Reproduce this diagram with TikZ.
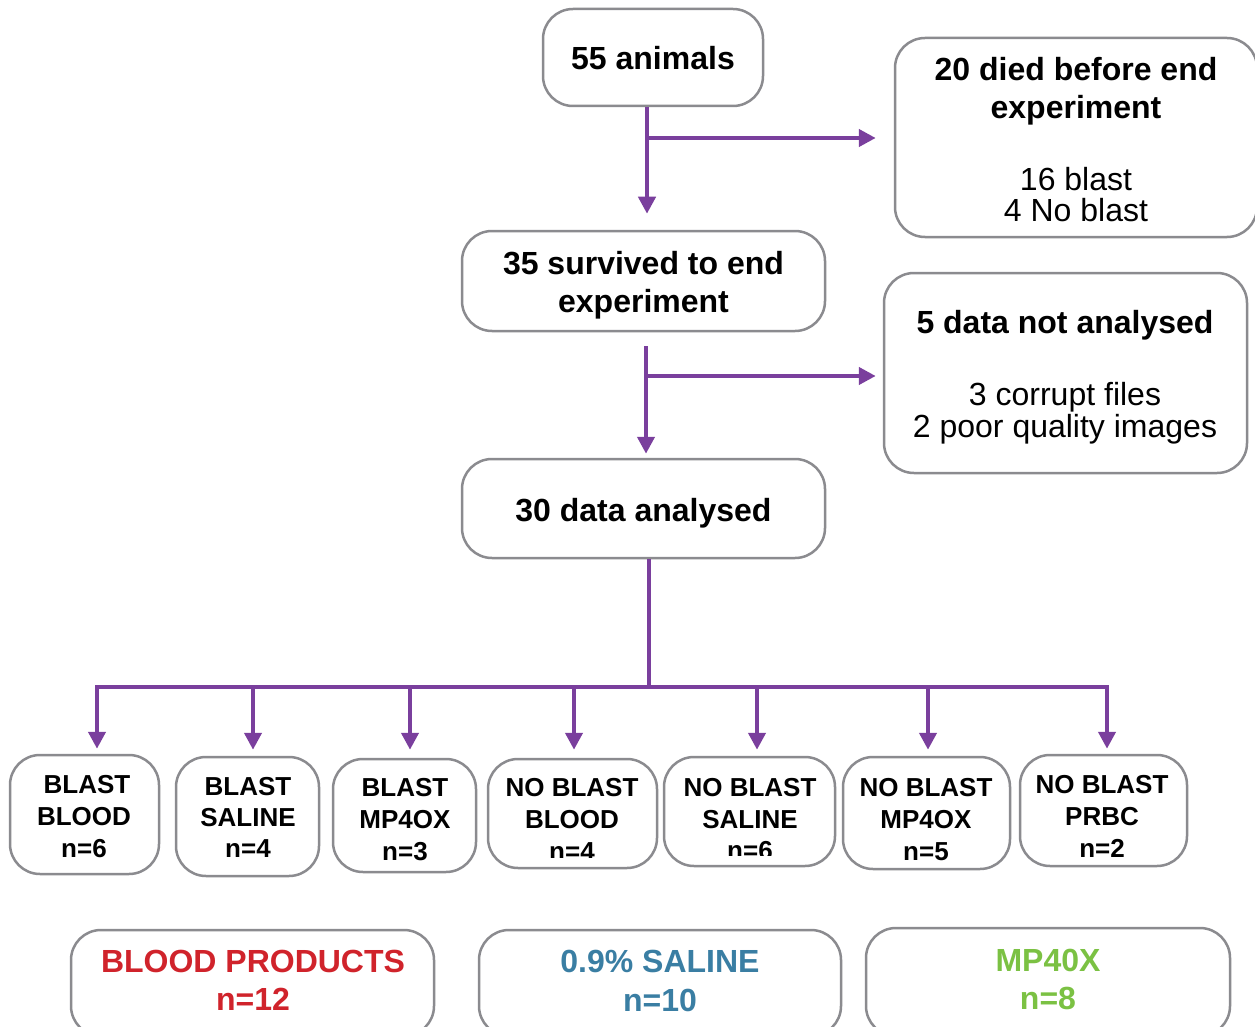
\documentclass[tikz,border=0pt]{standalone}
\usepackage{fontspec}
\setmainfont{Liberation Sans}
\usetikzlibrary{arrows.meta}
\definecolor{purp}{HTML}{7A3F9D}
\definecolor{bgray}{HTML}{8B8B8F}
\definecolor{cred}{HTML}{D0232B}
\definecolor{cteal}{HTML}{3A7EA3}
\definecolor{cgreen}{HTML}{7BC143}
\begin{document}
\begin{tikzpicture}[x=1pt,y=-1pt,
  box/.style={draw=bgray, line width=2.5pt, rounded corners=30pt, inner sep=0pt},
  big/.style={font=\fontsize{32}{37}\selectfont\bfseries, anchor=base, inner sep=0pt},
  reg/.style={font=\fontsize{32}{37}\selectfont, anchor=base, inner sep=0pt},
  small/.style={font=\fontsize{26}{32}\selectfont\bfseries, anchor=base, inner sep=0pt},
  arr/.style={draw=purp, line width=4.2pt, -{Triangle[length=17pt,width=17pt]}},
  ln/.style={draw=purp, line width=4.2pt},
]
\useasboundingbox (0,0) rectangle (1255,1027);
\clip (0,0) rectangle (1255,1027);

% main boxes
\node[box, minimum width=220pt, minimum height=97pt] (b55) at (653,57.5) {};
\node[box, minimum width=362pt, minimum height=199pt] (b20) at (1076,137.5) {};
\node[box, minimum width=363pt, minimum height=100pt] (b35) at (643.5,281) {};
\node[box, minimum width=363pt, minimum height=200pt] (b5) at (1065.5,373) {};
\node[box, minimum width=363pt, minimum height=99pt] (b30) at (643.5,508.5) {};

\node[big] (t55) at (653,70) {55 animals};
\node[big] (t20a) at (1076,81) {20 died before end};
\node[big] (t20b) at (1076,118.5) {experiment};
\node[reg] (t20c) at (1076,190) {16 blast};
\node[reg] (t20d) at (1076,222) {4 No blast};
\node[big] (t35a) at (643.5,274) {35 survived to end};
\node[big] (t35b) at (643.5,312) {experiment};
\node[big] (t5a) at (1065,333) {5 data not analysed};
\node[reg] (t5b) at (1065,405) {3 corrupt files};
\node[reg] (t5c) at (1065,437) {2 poor quality images};
\node[big] (t30) at (643.5,521) {30 data analysed};

% bottom boxes
\node[box, minimum width=149pt, minimum height=119pt] (bb1) at (84.5,814.5) {};
\node[box, minimum width=143pt, minimum height=119pt] (bb2) at (247.5,816.5) {};
\node[box, minimum width=143pt, minimum height=113pt] (bb3) at (404.5,815.5) {};
\node[box, minimum width=169pt, minimum height=109pt] (bb4) at (572.5,813.5) {};
\node[box, minimum width=171pt, minimum height=109pt] (bb5) at (749.5,811.5) {};
\node[box, minimum width=167pt, minimum height=112pt] (bb6) at (926.5,813) {};
\node[box, minimum width=167pt, minimum height=111pt] (bb7) at (1103.5,810.5) {};

\node[small] (l1a) at (87,793) {BLAST};
\node[small] (l1b) at (84,825) {BLOOD};
\node[small] (l1c) at (84,857) {n=6};
\node[small] (l2a) at (248,795) {BLAST};
\node[small] (l2b) at (248,826) {SALINE};
\node[small] (l2c) at (248,857) {n=4};
\node[small] (l3a) at (405,796) {BLAST};
\node[small] (l3b) at (405,828) {MP4OX};
\node[small] (l3c) at (405,860) {n=3};
\node[small] (l4a) at (572,796) {NO BLAST};
\node[small] (l4b) at (572,828) {BLOOD};
\begin{scope}
  \clip (490,840) rectangle (655,857);
  \node[small] (l4c) at (572,860) {n=4};
\end{scope}
\node[small] (l5a) at (750,796) {NO BLAST};
\node[small] (l5b) at (750,828) {SALINE};
\begin{scope}
  \clip (666,840) rectangle (833,855);
  \node[small] (l5c) at (750,859) {n=6};
\end{scope}
\node[small] (l6a) at (926,796) {NO BLAST};
\node[small] (l6b) at (926,828) {MP4OX};
\node[small] (l6c) at (926,860) {n=5};
\node[small] (l7a) at (1102,793) {NO BLAST};
\node[small] (l7b) at (1102,825) {PRBC};
\node[small] (l7c) at (1102,857) {n=2};

% group boxes
\node[box, minimum width=363pt, minimum height=106pt] (g1) at (252.5,983) {};
\node[box, minimum width=362pt, minimum height=106pt] (g2) at (660,983) {};
\node[box, minimum width=364pt, minimum height=108pt] (g3) at (1048,982) {};
\node[big, text=cred] (g1a) at (253,972) {BLOOD PRODUCTS};
\node[big, text=cred] (g1b) at (253,1010) {n=12};
\node[big, text=cteal] (g2a) at (660,972) {0.9\% SALINE};
\node[big, text=cteal] (g2b) at (660,1011) {n=10};
\node[big, text=cgreen] (g3a) at (1048,971) {MP40X};
\node[big, text=cgreen] (g3b) at (1048,1009) {n=8};

% connectors
\coordinate (j1) at (647,138);
\draw[arr, shorten >=16pt] (b55.south -| j1) -- (b35.north -| j1);
\draw[arr, shorten >=18pt] (j1) -- (b20.west |- j1);
\coordinate (j2) at (646,376);
\draw[arr, shorten <=14pt, shorten >=4pt] (b35.south -| j2) -- (b30.north -| j2);
\draw[arr, shorten >=7pt] (j2) -- (b5.west |- j2);
\coordinate (j3) at (649,687);
\draw[ln] (b30.south -| j3) -- (j3);
\coordinate (c1) at (97,687);
\coordinate (c2) at (253,687);
\coordinate (c3) at (410,687);
\coordinate (c4) at (574,687);
\coordinate (c5) at (757,687);
\coordinate (c6) at (928,687);
\coordinate (c7) at (1107,687);
\draw[ln, line cap=rect] (c1) -- (c7);
\draw[arr, shorten >=5pt] (c1) -- (bb1.north -| c1);
\draw[arr, shorten >=6pt] (c2) -- (bb2.north -| c2);
\draw[arr, shorten >=8pt] (c3) -- (bb3.north -| c3);
\draw[arr, shorten >=8pt] (c4) -- (bb4.north -| c4);
\draw[arr, shorten >=6pt] (c5) -- (bb5.north -| c5);
\draw[arr, shorten >=6pt] (c6) -- (bb6.north -| c6);
\draw[arr, shorten >=5pt] (c7) -- (bb7.north -| c7);
\end{tikzpicture}
\end{document}
